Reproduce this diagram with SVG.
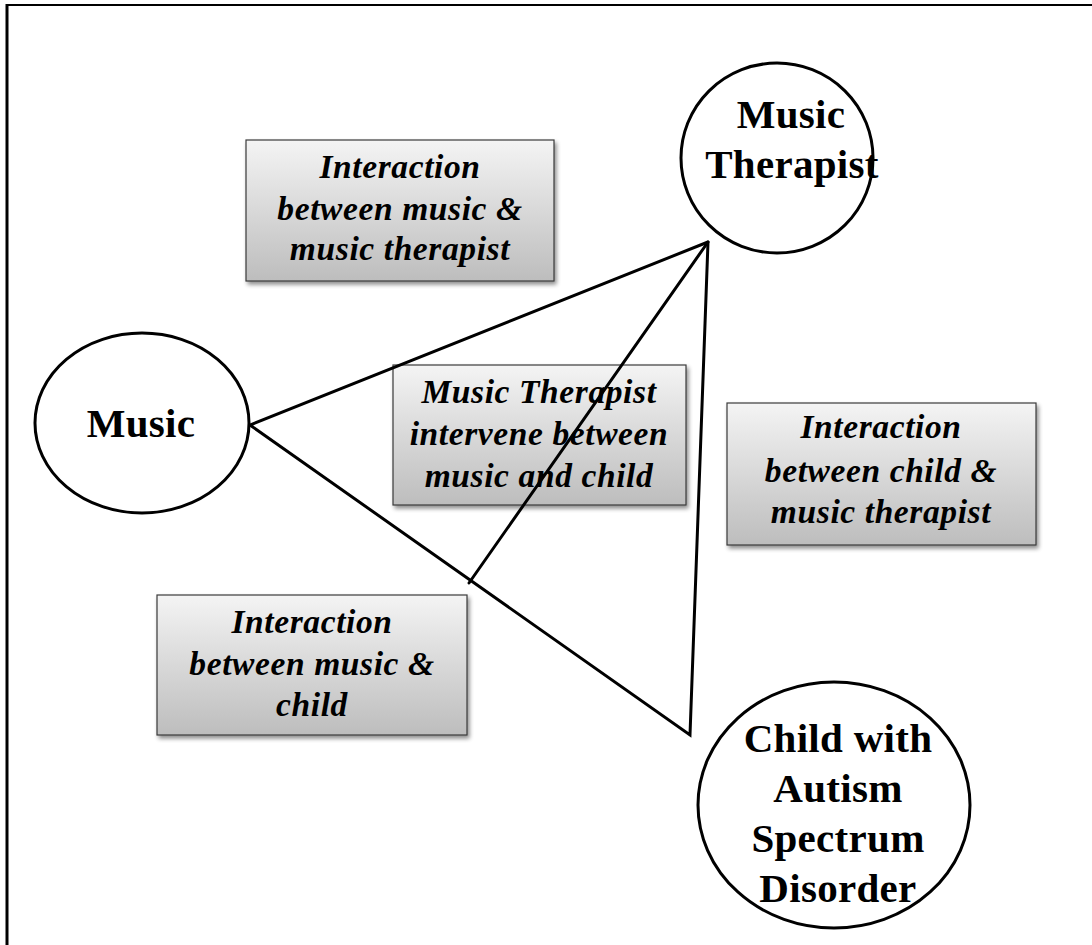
<svg xmlns="http://www.w3.org/2000/svg" width="1092" height="945" viewBox="0 0 1092 945">
  <defs>
    <linearGradient id="boxFill" x1="0" y1="0" x2="0" y2="1">
      <stop offset="0" stop-color="#f4f4f4"/>
      <stop offset="1" stop-color="#bdbdbd"/>
    </linearGradient>
    <filter id="shadow" x="-10%" y="-10%" width="125%" height="130%">
      <feGaussianBlur in="SourceAlpha" stdDeviation="2"/>
      <feOffset dx="2" dy="3" result="b"/>
      <feComponentTransfer><feFuncA type="linear" slope="0.45"/></feComponentTransfer>
      <feMerge><feMergeNode/><feMergeNode in="SourceGraphic"/></feMerge>
    </filter>
  </defs>
  <style>
    .frame { stroke: #000; fill: none; }
    .node { fill: #fff; stroke: #000; stroke-width: 3; }
    .box { fill: url(#boxFill); stroke: #3a3a3a; stroke-width: 1.2; filter: url(#shadow); }
    .edge { stroke: #000; stroke-width: 3; fill: none; stroke-linecap: round; stroke-linejoin: miter; }
    .ntext { font-family: "Liberation Serif", "Times New Roman", serif; font-weight: bold; font-size: 41px; letter-spacing: 0.3px; text-anchor: middle; fill: #000; }
    .btext { font-family: "Liberation Serif", "Times New Roman", serif; font-weight: bold; font-style: italic; font-size: 33.5px; letter-spacing: 0.6px; text-anchor: middle; fill: #000; }
  </style>

  <rect width="1092" height="945" fill="#fff"/>
  <!-- page frame: left and top rules -->
  <line class="frame" x1="7" y1="5" x2="1092" y2="5" stroke-width="2"/>
  <line class="frame" x1="7" y1="4" x2="7" y2="945" stroke-width="3"/>

  <!-- label boxes sit beneath the connector lines -->
  <g id="box-music-therapist">
    <rect class="box" x="246" y="140" width="308" height="141"/>
    <text class="btext" x="400" y="178">Interaction</text>
    <text class="btext" x="400" y="220">between music &amp;</text>
    <text class="btext" x="400" y="260">music therapist</text>
  </g>
  <g id="box-intervene">
    <rect class="box" x="393" y="365" width="293" height="140"/>
    <text class="btext" x="539" y="403">Music Therapist</text>
    <text class="btext" x="539" y="445">intervene between</text>
    <text class="btext" x="539" y="487">music and child</text>
  </g>
  <g id="box-music-child">
    <rect class="box" x="157" y="595" width="310" height="140"/>
    <text class="btext" x="312" y="633">Interaction</text>
    <text class="btext" x="312" y="675">between music &amp;</text>
    <text class="btext" x="312" y="716">child</text>
  </g>
  <g id="box-child-therapist">
    <rect class="box" x="727" y="403" width="309" height="142"/>
    <text class="btext" x="881" y="438">Interaction</text>
    <text class="btext" x="881" y="482">between child &amp;</text>
    <text class="btext" x="881" y="523">music therapist</text>
  </g>

  <g id="connectors">
    <polyline class="edge" points="708,242 250,425 690,735 708,242"/>
    <line class="edge" x1="708" y1="242" x2="469" y2="583"/>
  </g>

  <g id="node-music">
    <ellipse class="node" cx="142" cy="423" rx="107" ry="90"/>
    <text class="ntext" x="141" y="437">Music</text>
  </g>
  <g id="node-therapist">
    <ellipse class="node" cx="777" cy="158" rx="96" ry="95"/>
    <text class="ntext" x="791" y="128">Music</text>
    <text class="ntext" x="792" y="178">Therapist</text>
  </g>
  <g id="node-child">
    <ellipse class="node" cx="834" cy="805" rx="136" ry="123"/>
    <text class="ntext" x="838" y="752">Child with</text>
    <text class="ntext" x="838" y="802">Autism</text>
    <text class="ntext" x="838" y="852">Spectrum</text>
    <text class="ntext" x="838" y="902">Disorder</text>
  </g>
</svg>
